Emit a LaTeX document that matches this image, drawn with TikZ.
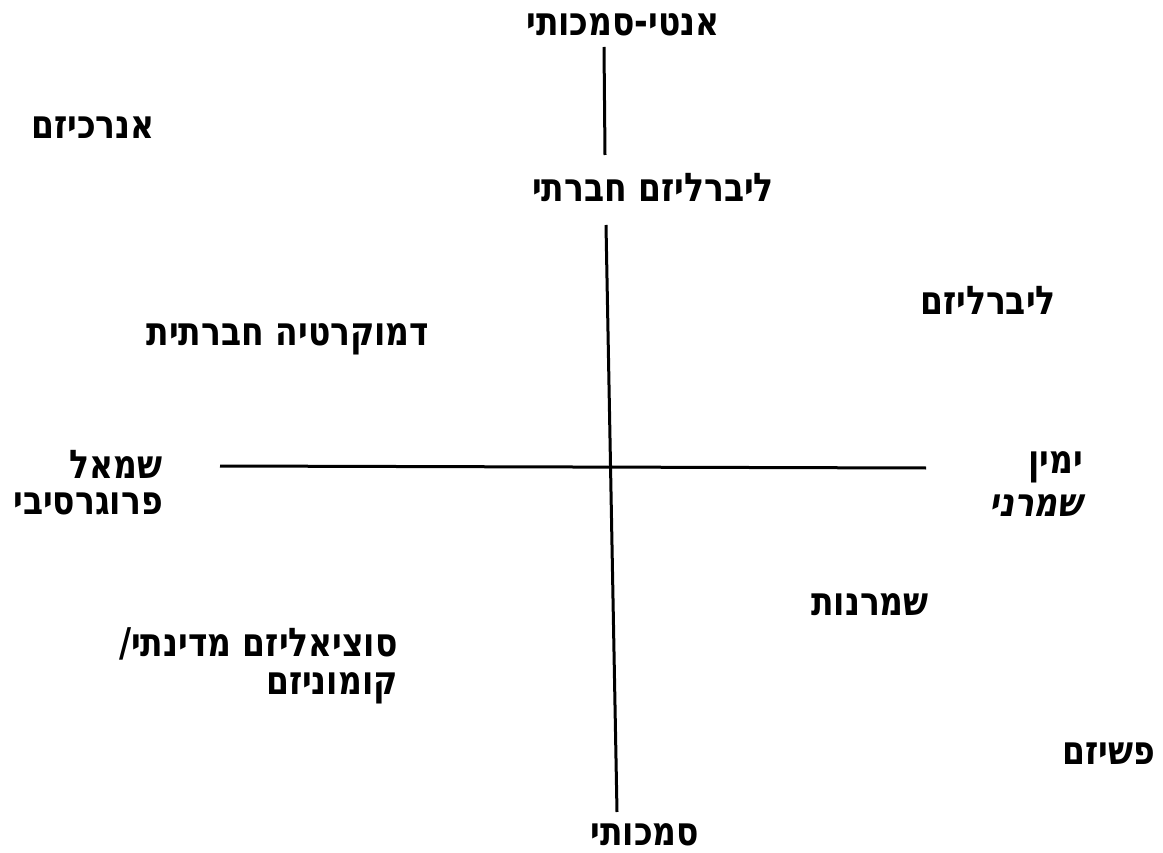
\documentclass[tikz,border=0pt]{standalone}
\usepackage{graphicx}
\usepackage{fontspec}
\TeXXeTstate=1
\newfontfamily\heb[Script=Hebrew]{DejaVu Sans Bold}
\newfontfamily\hebsl[Script=Hebrew,FakeSlant=0.2]{DejaVu Sans Bold}
\newcommand\hbtxt[1]{\scalebox{1}[1.2]{\beginR #1\endR}}
\begin{document}
\begin{tikzpicture}[x=1pt,y=-1pt,
  lbl/.style={inner sep=0pt,font=\heb\fontsize{33}{38}\selectfont},
  axis/.style={line width=3pt}]
\useasboundingbox (0,0) rectangle (1163,853);
\node[lbl] (antiauth) at (623,25) {\hbtxt{אנטי-סמכותי}};
\node[lbl] (anarch) at (93,128) {\hbtxt{אנרכיזם}};
\node[lbl] (soclib) at (653,188) {\hbtxt{ליברליזם חברתי}};
\node[lbl] (lib) at (988,300) {\hbtxt{ליברליזם}};
\node[lbl] (socdem) at (288,339) {\hbtxt{דמוקרטיה חברתית}};
\node[lbl,anchor=east] (left1) at (163,464) {\hbtxt{שמאל}};
\node[lbl,anchor=east] (left2) at (163,504) {\hbtxt{פרוגרסיבי}};
\node[lbl,anchor=east] (right1) at (1083,467) {\hbtxt{ימין}};
\node[lbl,anchor=east,font=\hebsl\fontsize{33}{38}\selectfont] (right2) at (1083,506) {\hbtxt{שמרני}};
\node[lbl] (cons) at (870,605) {\hbtxt{שמרנות}};
\node[lbl,anchor=east] (soc1) at (398,644) {\hbtxt{סוציאליזם מדינתי/}};
\node[lbl,anchor=east] (soc2) at (398,688) {\hbtxt{קומוניזם}};
\node[lbl] (fasc) at (1109,754) {\hbtxt{פשיזם}};
\node[lbl] (auth) at (645,835) {\hbtxt{סמכותי}};
\coordinate (vt1) at (604,47);
\coordinate (vt2) at (605,155);
\coordinate (vb1) at (606,225);
\coordinate (vb2) at (617,812);
\coordinate (hl) at (220,466);
\coordinate (hr) at (926,468);
\draw[axis] (vt1) -- (vt2);
\draw[axis] (vb1) -- (vb2);
\draw[axis] (hl) -- (hr);
\end{tikzpicture}
\end{document}
